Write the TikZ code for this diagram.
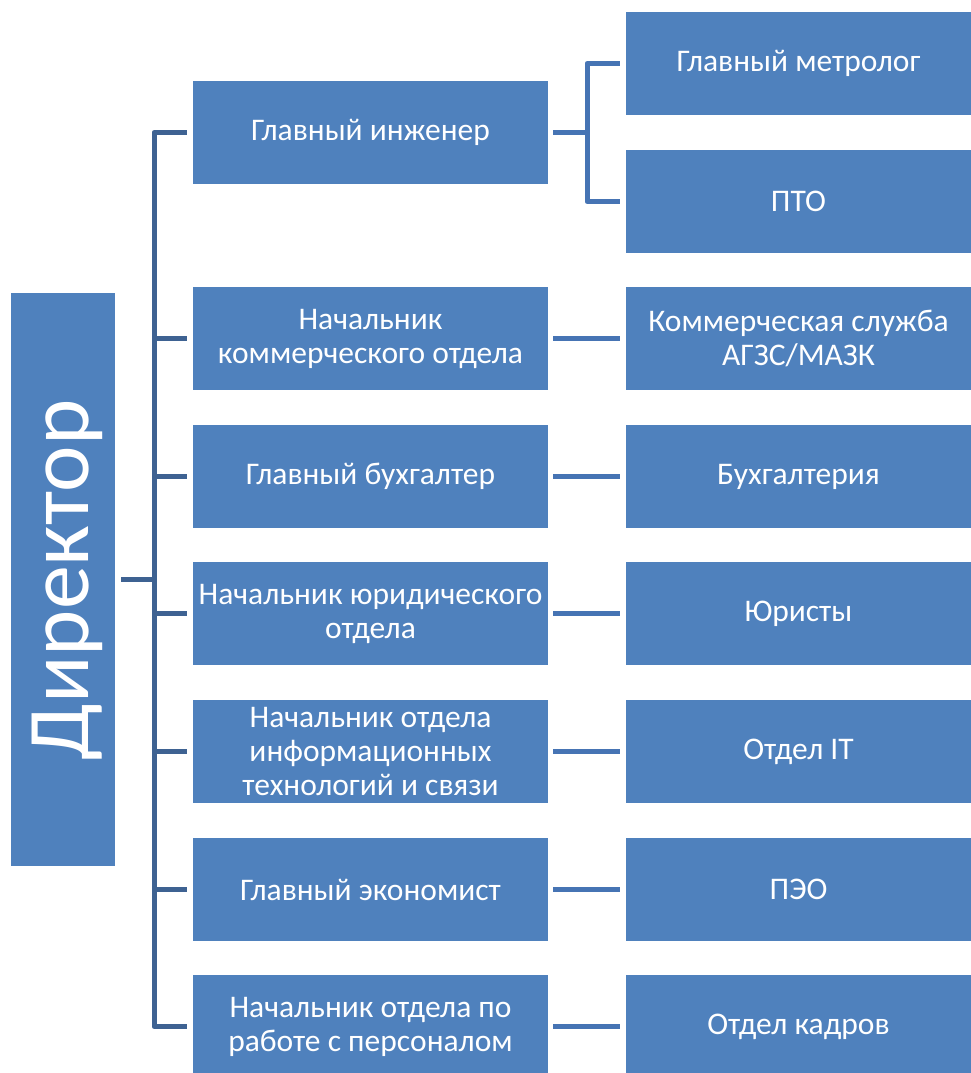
\documentclass[tikz,border=0pt]{standalone}
\usepackage{fontspec}
\setmainfont{Carlito}
\definecolor{boxfill}{HTML}{4F81BD}
\definecolor{lline}{HTML}{3E6292}
\definecolor{rline}{HTML}{4674B4}
\begin{document}
\begin{tikzpicture}[x=1pt,y=-1pt,
  box/.style={fill=boxfill, draw=none, text=white, align=center, inner sep=0pt,
    font=\fontsize{31.5}{34}\selectfont},
  midbox/.style={box, minimum width=355pt, minimum height=103pt},
  rbox/.style={box, minimum width=345pt, minimum height=103pt},
  lconn/.style={draw=lline, line width=5pt, line join=round},
  rconn/.style={draw=rline, line width=5pt, line join=round}]
\clip (0,0) rectangle (971,1073);
\fill[white] (0,0) rectangle (971,1073);
% director
\node[fill=boxfill, minimum width=104pt, minimum height=573pt, inner sep=0pt] (dir) at (63,579.5) {};
\node[text=white, rotate=90, anchor=base, font=\fontsize{88}{100}\selectfont, inner sep=0pt] (dirt) at (88,580) {Директор};
% middle column
\node[midbox] (m1) at (370.5,132.5) {Главный инженер};
\node[midbox] (m2) at (370.5,338.5) {Начальник\\коммерческого отдела};
\node[midbox] (m3) at (370.5,476.5) {Главный бухгалтер};
\node[midbox] (m4) at (370.5,613.5) {Начальник юридического\\отдела};
\node[midbox] (m5) at (370.5,751.5) {Начальник отдела\\информационных\\технологий и связи};
\node[midbox] (m6) at (370.5,889.5) {Главный экономист};
\node[midbox] (m7) at (370.5,1026.5) {Начальник отдела по\\работе с персоналом};
% right column
\node[rbox] (r1) at (798.5,63.5) {Главный метролог};
\node[rbox] (r2) at (798.5,201.5) {ПТО};
\node[rbox] (r3) at (798.5,338.5) {Коммерческая служба\\АГЗС/МАЗК};
\node[rbox] (r4) at (798.5,476.5) {Бухгалтерия};
\node[rbox] (r5) at (798.5,613.5) {Юристы};
\node[rbox] (r6) at (798.5,751.5) {Отдел IT};
\node[rbox] (r7) at (798.5,889.5) {ПЭО};
\node[rbox] (r8) at (798.5,1026.5) {Отдел кадров};
% left connectors
\coordinate (tr) at (154,579.5);
\draw[lconn] ([xshift=6pt]dir.east) -- (tr);
\draw[lconn] ([xshift=-6pt]m1.west) -| (tr) |- ([xshift=-6pt]m7.west);
\foreach \i in {2,3,4,5,6}{
  \draw[lconn] (tr |- m\i.west) -- ([xshift=-6pt]m\i.west);
}
% right connectors
\coordinate (fk) at (587,132.5);
\draw[rconn] ([xshift=5pt]m1.east) -- (fk);
\draw[rconn] ([xshift=-6pt]r1.west) -| (fk) |- ([xshift=-6pt]r2.west);
\draw[rconn] ([xshift=5pt]m2.east) -- ([xshift=-6pt]r3.west);
\draw[rconn] ([xshift=5pt]m3.east) -- ([xshift=-6pt]r4.west);
\draw[rconn] ([xshift=5pt]m4.east) -- ([xshift=-6pt]r5.west);
\draw[rconn] ([xshift=5pt]m5.east) -- ([xshift=-6pt]r6.west);
\draw[rconn] ([xshift=5pt]m6.east) -- ([xshift=-6pt]r7.west);
\draw[rconn] ([xshift=5pt]m7.east) -- ([xshift=-6pt]r8.west);
\end{tikzpicture}
\end{document}
